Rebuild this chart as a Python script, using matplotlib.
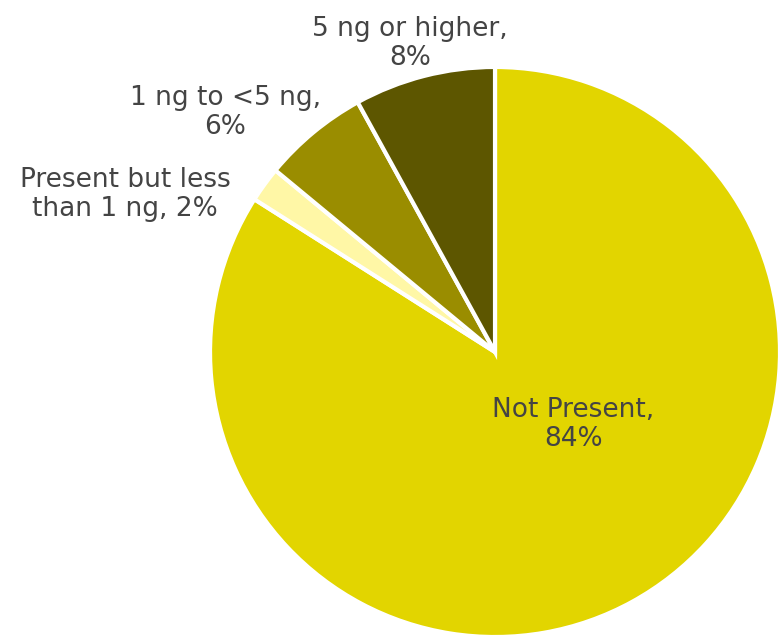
import matplotlib.pyplot as plt

# slices, clockwise from 12 o'clock
labels = ['Not Present', 'Present but less\nthan 1 ng', '1 ng to <5 ng', '5 ng or higher']
shares = [84, 2, 6, 8]
colors = ['#E2D500', '#FFF7A6', '#9A8D00', '#5D5600']

# label texts and where they sit (pie radius = 1)
label_text = ['Not Present,\n84%', 'Present but less\nthan 1 ng, 2%', '1 ng to <5 ng,\n6%', '5 ng or higher,\n8%']
label_pos = [(0.274, -0.253), (-1.298, 0.554), (-0.947, 0.839), (-0.298, 1.081)]

fig = plt.figure(figsize=(7.8, 6.38), dpi=100)
ax = fig.add_axes([0, 0, 1, 1])
ax.pie(shares, colors=colors, startangle=90, counterclock=False,
       wedgeprops=dict(edgecolor='white', linewidth=3))
for txt, (x, y) in zip(label_text, label_pos):
    ax.text(x, y, txt, ha='center', va='center', fontsize=19,
            color='#444444', linespacing=1.15)
ax.set_xlim(-1.737, 1.0)
ax.set_ylim(-1.0035, 1.235)
ax.set_aspect('auto')
ax.axis('off')
plt.savefig('out.png')
